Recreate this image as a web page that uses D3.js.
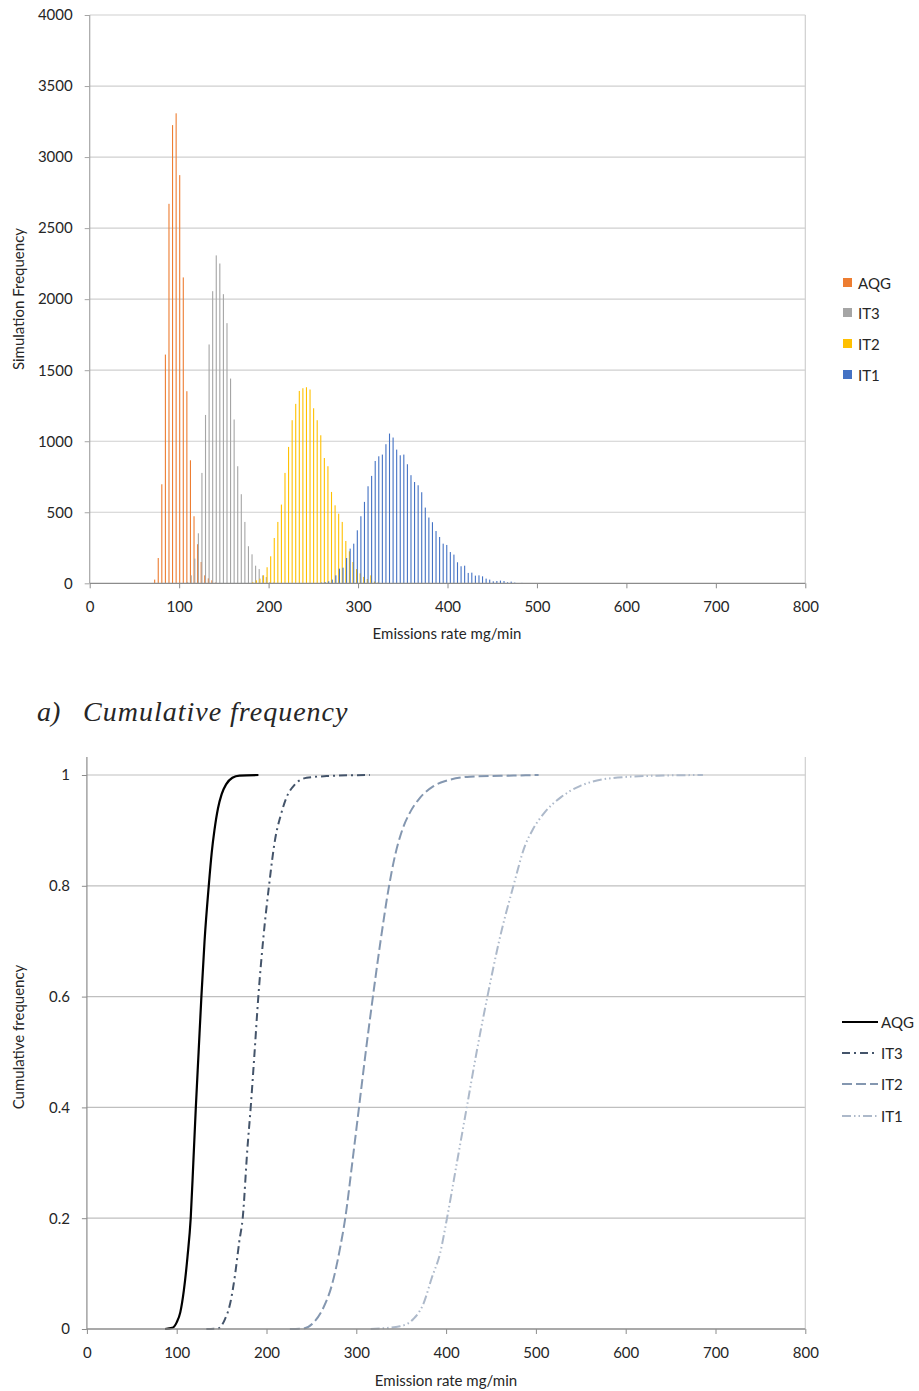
<!DOCTYPE html>
<html>
<head>
<meta charset="utf-8">
<script src="https://cdn.jsdelivr.net/npm/d3@7"></script>
<style>
body { margin: 0; background: #fff; }
text { font-family: Lato, "Open Sans", sans-serif; fill: #262626; }
</style>
</head>
<body>
<script>
// series names, in legend order
var seriesNames = ["AQG", "IT3", "IT2", "IT1"];
var barColors = ["#ED7D31", "#A5A5A5", "#FFC000", "#4472C4"];
var lineColors = ["#000000", "#44546A", "#8497B0", "#ADB9CA"];
var lineDashes = [null, "8 4 2 4", "10 4", "9 3 1.5 3 1.5 3"];

// histogram: [bin start (mg/min), simulation frequency]
var aqgHist = [[72,26],[76,178],[80,697],[84,1610],[88,2671],[92,3225],[96,3308],[100,2873],[104,2153],
  [108,1352],[112,866],[116,472],[120,275],[124,150],[128,56],[132,35],[136,21],[140,5]];
var it3Hist = [[108,8],[112,56],[116,174],[120,352],[124,777],[128,1185],[132,1681],[136,2056],[140,2308],
  [144,2251],[148,2035],[152,1831],[156,1441],[160,1153],[164,824],[168,627],[172,432],[176,261],
  [180,204],[184,124],[188,100],[192,56],[196,44],[200,9],[204,5]];
var it2Hist = [[180,8],[184,21],[188,33],[192,56],[196,113],[200,190],[204,319],[208,432],[212,554],[216,777],
  [220,960],[224,1148],[228,1263],[232,1354],[236,1373],[240,1380],[244,1364],[248,1232],[252,1148],
  [256,1042],[260,882],[264,824],[268,643],[272,549],[276,490],[280,432],[284,298],[288,225],[292,150],
  [296,100],[300,70],[304,45],[308,30],[312,56],[316,12],[320,6]];
var it1Hist = [[256,5],[260,9],[264,14],[268,26],[272,56],[276,103],[280,110],[284,178],[288,244],[292,279],
  [296,373],[300,472],[304,573],[308,683],[312,756],[316,861],[320,894],[324,906],[328,979],[332,1054],
  [336,1026],[340,941],[344,901],[348,906],[352,838],[356,761],[360,713],[364,690],[368,641],[372,533],
  [376,463],[380,430],[384,368],[388,326],[392,279],[396,270],[400,220],[404,202],[408,148],[412,120],
  [416,124],[420,73],[424,75],[428,54],[432,56],[436,49],[440,33],[444,26],[448,14],[452,16],[456,19],
  [460,16],[464,7],[468,12],[472,5],[476,2],[480,3],[484,2],[488,1]];

// cumulative frequency: [emission rate, cumulative frequency]
var aqgCum = [[87,0],[95,0.002],[100,0.012],[104,0.03],[108,0.07],[112,0.13],[115.6,0.2],[118.5,0.3],
  [121.3,0.4],[124.4,0.5],[127.5,0.6],[131,0.7],[135.7,0.8],[139,0.86],[142,0.9],[146,0.94],[150,0.965],
  [155,0.983],[162,0.995],[170,0.999],[191,1]];
var it3Cum = [[133,0],[146,0.001],[153.8,0.018],[159.4,0.045],[165,0.098],[169.7,0.158],[173.5,0.2],
  [178.7,0.325],[182.4,0.4],[186.4,0.492],[190.9,0.6],[196.5,0.706],[202.8,0.8],[209.5,0.883],
  [215.8,0.927],[222.4,0.96],[231.7,0.983],[244.7,0.995],[267,0.998],[315,1]];
var it2Cum = [[226,0],[241,0.001],[252,0.011],[263.2,0.038],[272.6,0.078],[281.8,0.145],[287.7,0.2],
  [295.5,0.3],[303,0.4],[310.5,0.5],[318.5,0.6],[327,0.7],[336.5,0.8],[342.5,0.85],[351,0.9],
  [360,0.933],[370,0.957],[386,0.98],[401,0.99],[426.7,0.997],[475,0.999],[503,1]];
var it1Cum = [[316,0],[348.7,0.005],[363.5,0.018],[374.6,0.045],[384,0.092],[393.5,0.138],[401,0.2],
  [412,0.3],[423,0.4],[434,0.5],[446,0.6],[459,0.7],[475,0.8],[488,0.873],[496,0.9],[510,0.933],
  [528,0.96],[549,0.98],[568,0.99],[605,0.997],[642,0.999],[686,1]];

var xTicks = [0, 100, 200, 300, 400, 500, 600, 700, 800];
var freqTicks = [0, 500, 1000, 1500, 2000, 2500, 3000, 3500, 4000];
var cumTicks = [0, 0.2, 0.4, 0.6, 0.8, 1];

var hists = [aqgHist, it3Hist, it2Hist, it1Hist];
var cums = [aqgCum, it3Cum, it2Cum, it1Cum];

var svg = d3.select("body").append("svg")
  .attr("width", 919)
  .attr("height", 1391);

function styleAxis(g, color) {
  g.select(".domain").remove();
  g.selectAll(".tick line").attr("stroke", color);
  g.selectAll(".tick text").style("font-family", "Lato, 'Open Sans', sans-serif")
    .style("font-size", "15px").attr("fill", "#262626");
}

// ---------------- top chart: histogram ----------------
var xTop = d3.scaleLinear().domain([0, 800]).range([89.7, 805.3]);
var yTop = d3.scaleLinear().domain([0, 4000]).range([583.3, 15]);
// position of each series inside a 4 mg/min bin
var sub = d3.scaleBand().domain(seriesNames).range([0.2, 3.6]);

var topG = svg.append("g");

topG.selectAll(".grid").data(freqTicks.slice(1)).enter().append("line")
  .attr("x1", xTop(0)).attr("x2", xTop(800))
  .attr("y1", function(d) { return yTop(d); }).attr("y2", function(d) { return yTop(d); })
  .attr("stroke", "#cfcfcf").attr("stroke-width", 1.2);
topG.append("line")
  .attr("x1", xTop(800)).attr("x2", xTop(800)).attr("y1", yTop(4000)).attr("y2", yTop(0))
  .attr("stroke", "#cfcfcf").attr("stroke-width", 1.2);

hists.forEach(function(h, i) {
  topG.append("g").selectAll("rect").data(h).enter().append("rect")
    .attr("x", function(d) { return xTop(d[0] + sub(seriesNames[i]) + sub.bandwidth() / 2) - 0.55; })
    .attr("width", 1.1)
    .attr("y", function(d) { return yTop(d[1]); })
    .attr("height", function(d) { return yTop(0) - yTop(d[1]); })
    .attr("fill", barColors[i]);
});

// axis lines
topG.append("line").attr("x1", xTop(0)).attr("x2", xTop(0)).attr("y1", yTop(4000)).attr("y2", yTop(0))
  .attr("stroke", "#a6a6a6").attr("stroke-width", 1.2);
topG.append("line").attr("x1", xTop(0)).attr("x2", xTop(800)).attr("y1", yTop(0)).attr("y2", yTop(0))
  .attr("stroke", "#8c8c8c").attr("stroke-width", 1.3);

topG.append("g").attr("transform", "translate(0," + yTop(0) + ")")
  .call(d3.axisBottom(xTop).tickValues(xTicks).tickSize(5).tickPadding(13))
  .call(styleAxis, "#8c8c8c");
topG.append("g").attr("transform", "translate(" + xTop(0) + ",0)")
  .call(d3.axisLeft(yTop).tickValues(freqTicks).tickSize(5).tickPadding(12).tickFormat(d3.format("d")))
  .call(styleAxis, "#a6a6a6");

topG.append("text").attr("x", 447).attr("y", 639).attr("text-anchor", "middle")
  .style("font-size", "15px").text("Emissions rate mg/min");
topG.append("text").attr("transform", "translate(24,299) rotate(-90)").attr("text-anchor", "middle")
  .style("font-size", "15px").text("Simulation Frequency");

var legTop = topG.selectAll(".legtop").data(seriesNames).enter().append("g")
  .attr("transform", function(d, i) { return "translate(843," + [283, 313, 344, 375][i] + ")"; });
legTop.append("rect").attr("x", 0).attr("y", -5).attr("width", 9).attr("height", 9)
  .attr("fill", function(d, i) { return barColors[i]; });
legTop.append("text").attr("x", 15).attr("y", 5.5).style("font-size", "15px").text(function(d) { return d; });

// caption
svg.append("text").attr("x", 37).attr("y", 721)
  .style("font-family", "'Liberation Serif', 'DejaVu Serif', serif").style("font-style", "italic")
  .style("font-size", "28px").attr("fill", "#000").text("a)");
svg.append("text").attr("x", 83).attr("y", 721)
  .style("font-family", "'Liberation Serif', 'DejaVu Serif', serif").style("font-style", "italic")
  .style("font-size", "28px").style("letter-spacing", "1px").attr("fill", "#000").text("Cumulative frequency");

// ---------------- bottom chart: cumulative frequency ----------------
var xBot = d3.scaleLinear().domain([0, 800]).range([86.9, 805.3]);
var yBot = d3.scaleLinear().domain([0, 1]).range([1329, 775]);

var botG = svg.append("g");

botG.selectAll(".grid").data(cumTicks.slice(1)).enter().append("line")
  .attr("x1", xBot(0)).attr("x2", xBot(800))
  .attr("y1", function(d) { return yBot(d); }).attr("y2", function(d) { return yBot(d); })
  .attr("stroke", "#bfbfbf").attr("stroke-width", 1.2);
botG.append("line").attr("x1", xBot(800)).attr("x2", xBot(800)).attr("y1", 757).attr("y2", yBot(0))
  .attr("stroke", "#cfcfcf").attr("stroke-width", 1.2);

var line = d3.line()
  .x(function(d) { return xBot(d[0]); })
  .y(function(d) { return yBot(d[1]); })
  .curve(d3.curveMonotoneX);

cums.forEach(function(c, i) {
  botG.append("path").datum(c)
    .attr("d", line)
    .attr("fill", "none")
    .attr("stroke", lineColors[i])
    .attr("stroke-width", i === 0 ? 2.2 : 2)
    .attr("stroke-dasharray", lineDashes[i]);
});

botG.append("line").attr("x1", xBot(0)).attr("x2", xBot(0)).attr("y1", 757).attr("y2", yBot(0))
  .attr("stroke", "#8c8c8c").attr("stroke-width", 1.2);
botG.append("line").attr("x1", xBot(0)).attr("x2", xBot(800)).attr("y1", yBot(0)).attr("y2", yBot(0))
  .attr("stroke", "#8c8c8c").attr("stroke-width", 1.3);

botG.append("g").attr("transform", "translate(0," + yBot(0) + ")")
  .call(d3.axisBottom(xBot).tickValues(xTicks).tickSize(5).tickPadding(13))
  .call(styleAxis, "#8c8c8c");
botG.append("g").attr("transform", "translate(" + xBot(0) + ",0)")
  .call(d3.axisLeft(yBot).tickValues(cumTicks).tickSize(5).tickPadding(12).tickFormat(d3.format("~g")))
  .call(styleAxis, "#8c8c8c");

botG.append("text").attr("x", 446).attr("y", 1386).attr("text-anchor", "middle")
  .style("font-size", "15px").text("Emission rate mg/min");
botG.append("text").attr("transform", "translate(24,1037) rotate(-90)").attr("text-anchor", "middle")
  .style("font-size", "15px").text("Cumulative frequency");

var legBot = botG.selectAll(".legbot").data(seriesNames).enter().append("g")
  .attr("transform", function(d, i) { return "translate(842," + [1022, 1053, 1084, 1116][i] + ")"; });
legBot.append("line").attr("x1", 0).attr("x2", 36).attr("y1", 0).attr("y2", 0)
  .attr("stroke", function(d, i) { return lineColors[i]; })
  .attr("stroke-width", 2)
  .attr("stroke-dasharray", function(d, i) { return lineDashes[i]; });
legBot.append("text").attr("x", 39).attr("y", 5.5).style("font-size", "15px").text(function(d) { return d; });
</script>
</body>
</html>
